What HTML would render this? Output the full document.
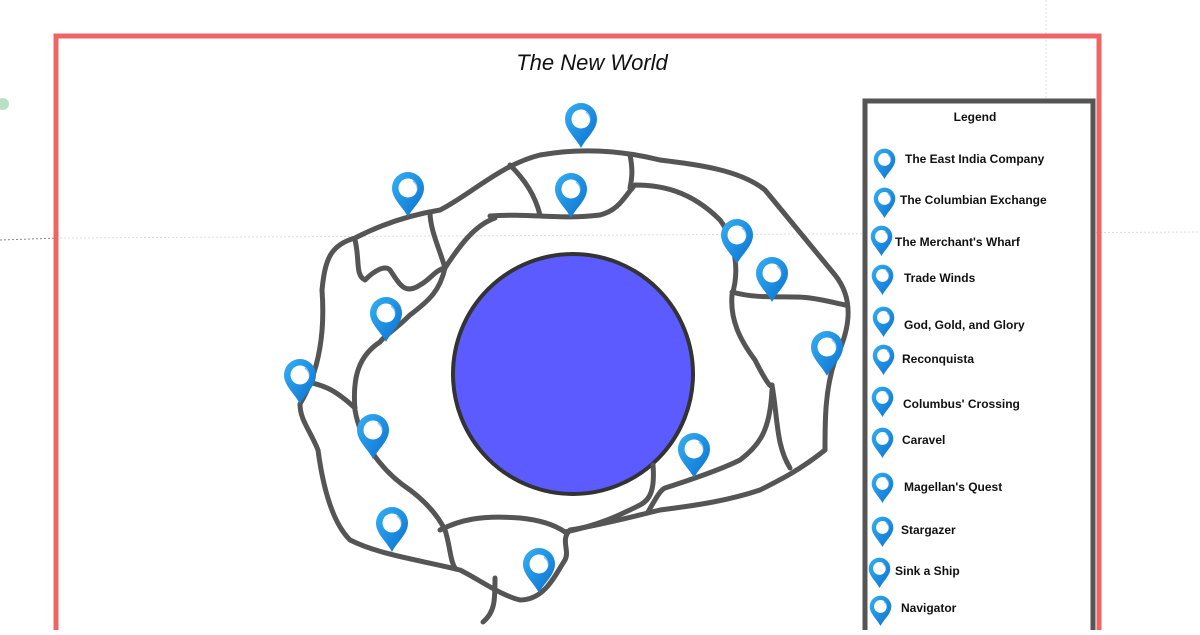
<!DOCTYPE html>
<html><head><meta charset="utf-8"><style>
body{margin:0;width:1200px;height:630px;overflow:hidden;background:#fff;font-family:"Liberation Sans",sans-serif}
</style></head><body>
<svg width="1200" height="630" viewBox="0 0 1200 630" xmlns="http://www.w3.org/2000/svg">
<defs>
<linearGradient id="g" x1="0" y1="0" x2="1" y2="1"><stop offset="0" stop-color="#35b0f2"/><stop offset="1" stop-color="#0a6fd0"/></linearGradient>
<symbol id="pin" viewBox="0 0 34 46" overflow="visible">
<path d="M17 46 C12 36 1 28 1 17 A16 16 0 0 1 33 17 C33 28 22 36 17 46Z" fill="url(#g)"/>
<circle cx="17" cy="17" r="9.5" fill="#fff"/>
<path d="M22 10 A9.5 9.5 0 0 1 24 25" stroke="#1a8ee0" stroke-width="2" fill="none" opacity=".5"/>
</symbol>
</defs>
<line x1="0" y1="240" x2="60" y2="238" stroke="#888" stroke-dasharray="2 2"/>
<line x1="60" y1="238" x2="1200" y2="232" stroke="#ddd" stroke-dasharray="2 2"/>
<line x1="1046" y1="0" x2="1046" y2="100" stroke="#ddd" stroke-dasharray="2 2"/>
<circle cx="3" cy="104" r="6" fill="#b8e0c4"/>
<rect x="56" y="36" width="1043" height="600" fill="none" stroke="#ef6464" stroke-width="5"/>
<text x="592" y="70" font-size="22" font-style="italic" text-anchor="middle" fill="#111">The New World</text>
<circle cx="573" cy="374" r="120" fill="#5b5bff" stroke="#333" stroke-width="4"/>
<g fill="none" stroke="#555" stroke-width="5" stroke-linecap="round" stroke-linejoin="round">
<path d="M300 404 C320 370 325 330 322 290 C325 260 330 245 355 238 C380 225 410 215 440 210 C470 195 500 165 540 155 C580 148 620 150 660 160 C700 165 740 170 765 190 C790 220 810 245 835 275 C855 300 850 330 835 360 C825 390 825 420 825 450 C800 470 780 480 760 490 C730 500 700 505 660 510 C640 515 600 525 570 530 C560 540 570 550 565 560 C555 575 545 600 520 600 C500 595 480 580 460 570 C420 560 380 555 350 540 C330 520 322 480 318 450 C310 430 300 420 300 404"/>
<path d="M300 380 C320 385 330 385 355 408"/>
<path d="M355 240 C360 260 355 275 365 280 C375 270 385 265 390 270 C400 285 405 295 420 285 C430 280 435 270 445 268"/>
<path d="M445 268 C460 245 475 225 495 218"/>
<path d="M430 212 C430 230 440 250 445 268 C440 290 430 300 410 315 C395 330 385 335 380 342 C360 355 352 375 355 410 C360 440 380 470 410 490 C430 505 440 520 445 530 C450 545 450 560 455 568"/>
<path d="M440 530 C460 520 480 515 520 518 C540 520 555 525 565 532"/>
<path d="M565 532 C600 525 620 515 640 505 C650 500 655 490 653 465"/>
<path d="M648 512 C655 500 660 490 665 488 C690 480 720 470 740 460 C760 445 770 430 772 390"/>
<path d="M772 385 C778 420 776 445 790 468"/>
<path d="M490 216 C530 213 560 220 600 215 C620 210 625 195 635 185 C660 185 690 190 720 220 C735 240 740 270 732 295 C730 320 740 340 755 360 C765 380 772 390 772 385"/>
<path d="M510 165 C525 180 535 195 540 215"/>
<path d="M630 155 C633 170 632 178 630 188"/>
<path d="M732 292 C760 300 790 295 810 298 C825 300 835 303 845 305"/>
<path d="M495 578 C495 600 495 612 483 622"/>
</g>
<g>
<use href="#pin" x="564" y="102" width="34" height="46"/>
<use href="#pin" x="391" y="171" width="34" height="46"/>
<use href="#pin" x="554" y="172" width="34" height="46"/>
<use href="#pin" x="720" y="218" width="34" height="46"/>
<use href="#pin" x="755" y="256" width="34" height="46"/>
<use href="#pin" x="369" y="296" width="34" height="46"/>
<use href="#pin" x="283" y="358" width="34" height="46"/>
<use href="#pin" x="810" y="330" width="34" height="46"/>
<use href="#pin" x="356" y="413" width="34" height="46"/>
<use href="#pin" x="677" y="432" width="34" height="46"/>
<use href="#pin" x="375" y="506" width="34" height="46"/>
<use href="#pin" x="522" y="547" width="34" height="46"/>
</g>
<rect x="865" y="101" width="228" height="540" fill="#fff" stroke="#555" stroke-width="5"/>
<g font-size="12" font-weight="bold" fill="#111">
<text x="975" y="121" text-anchor="middle">Legend</text>
<use href="#pin" x="873" y="148" width="23" height="31"/><text x="905" y="163">The East India Company</text>
<use href="#pin" x="873" y="187" width="23" height="31"/><text x="900" y="204">The Columbian Exchange</text>
<use href="#pin" x="870" y="225" width="23" height="31"/><text x="895" y="246">The Merchant's Wharf</text>
<use href="#pin" x="871" y="264" width="23" height="31"/><text x="904" y="282">Trade Winds</text>
<use href="#pin" x="872" y="306" width="23" height="31"/><text x="904" y="329">God, Gold, and Glory</text>
<use href="#pin" x="872" y="344" width="23" height="31"/><text x="902" y="363">Reconquista</text>
<use href="#pin" x="871" y="386" width="23" height="31"/><text x="903" y="408">Columbus' Crossing</text>
<use href="#pin" x="871" y="427" width="23" height="31"/><text x="902" y="444">Caravel</text>
<use href="#pin" x="871" y="472" width="23" height="31"/><text x="904" y="491">Magellan's Quest</text>
<use href="#pin" x="871" y="516" width="23" height="31"/><text x="901" y="534">Stargazer</text>
<use href="#pin" x="868" y="557" width="23" height="31"/><text x="895" y="575">Sink a Ship</text>
<use href="#pin" x="869" y="595" width="23" height="31"/><text x="901" y="612">Navigator</text>
</g>
</svg>
</body></html>
